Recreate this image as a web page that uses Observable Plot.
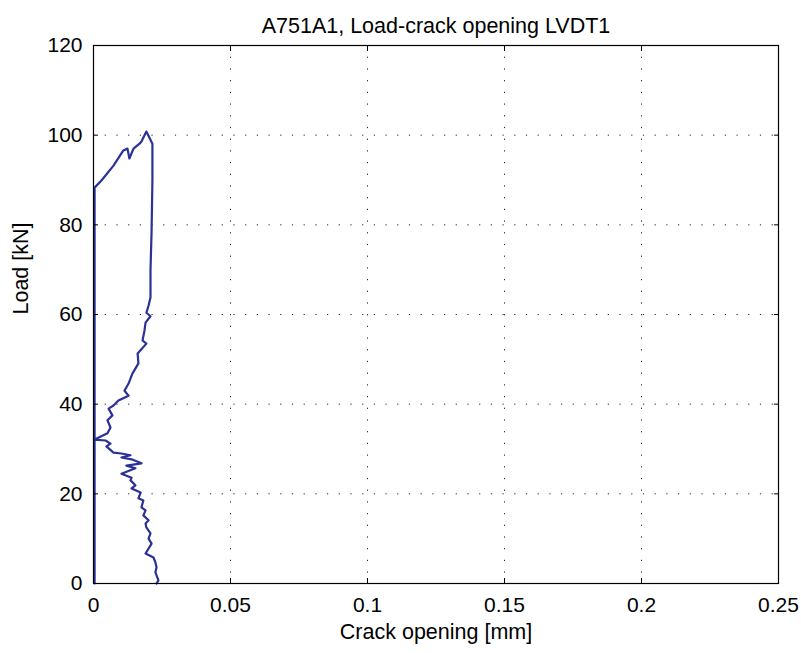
<!DOCTYPE html>
<html>
<head>
<meta charset="utf-8">
<script src="https://cdn.jsdelivr.net/npm/d3@7"></script>
<script src="https://cdn.jsdelivr.net/npm/@observablehq/plot@0.6"></script>
<style>
  html, body { margin: 0; padding: 0; background: #fff; }
  #chart svg { display: block; }
</style>
</head>
<body>
<div id="chart"></div>
<script>
const title = "A751A1, Load-crack opening LVDT1";
const xLabel = "Crack opening [mm]";
const yLabel = "Load [kN]";
const xTicks = [0, 0.05, 0.1, 0.15, 0.2, 0.25];
const xTickLabels = ["0", "0.05", "0.1", "0.15", "0.2", "0.25"];
const yTicks = [0, 20, 40, 60, 80, 100, 120];

// crack opening [mm], in path order
const opening = [
  0.0004, 0.0004, 0.0029, 0.0073, 0.0109, 0.0124, 0.0131, 0.0146, 0.0168, 0.0175,
  0.0193, 0.0215, 0.0215, 0.0212, 0.0208, 0.0208, 0.0201, 0.0193, 0.0208, 0.0190,
  0.0186, 0.0179, 0.0193, 0.0161, 0.0164, 0.0142, 0.0128, 0.0113, 0.0128, 0.0091,
  0.0073, 0.0055, 0.0069, 0.0051, 0.0062, 0.0051, 0.0004, 0.0044, 0.0062, 0.0047,
  0.0073, 0.0102, 0.0135, 0.0102, 0.0139, 0.0175, 0.0120, 0.0153, 0.0102, 0.0139,
  0.0135, 0.0153, 0.0139, 0.0172, 0.0164, 0.0182, 0.0175, 0.0190, 0.0182, 0.0201,
  0.0190, 0.0193, 0.0208, 0.0201, 0.0212, 0.0190, 0.0219, 0.0226, 0.0230, 0.0226,
  0.0237, 0.0230
];
// load [kN], in path order
const load = [
  0, 88.3, 89.9, 93.2, 96.6, 97.0, 94.8, 97.0, 98.1, 98.6,
  100.8, 98.1, 89.9, 78.7, 69.8, 63.8, 62.0, 60.4, 59.6, 58.2,
  56.4, 54.2, 53.5, 51.3, 49.1, 46.8, 44.6, 43.0, 41.9, 40.8,
  39.7, 39.0, 37.5, 36.4, 34.8, 33.5, 32.1, 31.9, 31.2, 30.6,
  29.2, 29.0, 28.6, 28.1, 27.7, 26.8, 26.3, 25.7, 24.5, 23.6,
  23.0, 21.9, 21.2, 20.3, 19.0, 18.5, 17.0, 16.3, 15.2, 14.1,
  13.4, 12.5, 11.2, 10.0, 8.9, 6.7, 5.8, 4.7, 3.6, 2.5,
  0.7, 0
];

const data = opening.map((x, i) => ({x, y: load[i]}));
const fmtX = d => xTickLabels[xTicks.indexOf(d)] ?? String(d);

const font = "Liberation Sans, Arial, Helvetica, sans-serif";
const grid = {stroke: "#222", strokeOpacity: 1, strokeWidth: 1, strokeDasharray: "1.2,10.5"};

const chart = Plot.plot({
  width: 801,
  height: 653,
  marginLeft: 93,
  marginRight: 23,
  marginTop: 45,
  marginBottom: 70,
  style: {fontFamily: font, fontSize: "21px", color: "#000", background: "#fff", overflow: "visible"},
  x: {domain: [0, 0.25], ticks: xTicks},
  y: {domain: [0, 120], ticks: yTicks},
  marks: [
    Plot.gridX(xTicks, grid),
    Plot.gridY(yTicks, grid),
    Plot.line(data, {x: "x", y: "y", stroke: "#2b3197", strokeWidth: 2.2, curve: "linear"}),
    Plot.frame({stroke: "#000", strokeWidth: 1.2}),
    Plot.axisX(xTicks, {anchor: "bottom", tickSize: -5, tickPadding: 19, tickFormat: fmtX, label: null, fontSize: 21}),
    Plot.axisX(xTicks, {anchor: "top", tickSize: -5, tickFormat: () => "", label: null}),
    Plot.axisY(yTicks, {anchor: "left", tickSize: -5, tickPadding: 16, label: null, fontSize: 21}),
    Plot.axisY(yTicks, {anchor: "right", tickSize: -5, tickFormat: () => "", label: null}),
    Plot.text([title], {frameAnchor: "top", dy: -28, fontSize: 21.5, fill: "#000"}),
    Plot.text([xLabel], {frameAnchor: "bottom", dy: 55, fontSize: 21.5, fill: "#000"}),
    Plot.text([yLabel], {frameAnchor: "left", dx: -72, rotate: -90, fontSize: 21.5, fill: "#000"})
  ]
});
document.getElementById("chart").appendChild(chart);
</script>
</body>
</html>
